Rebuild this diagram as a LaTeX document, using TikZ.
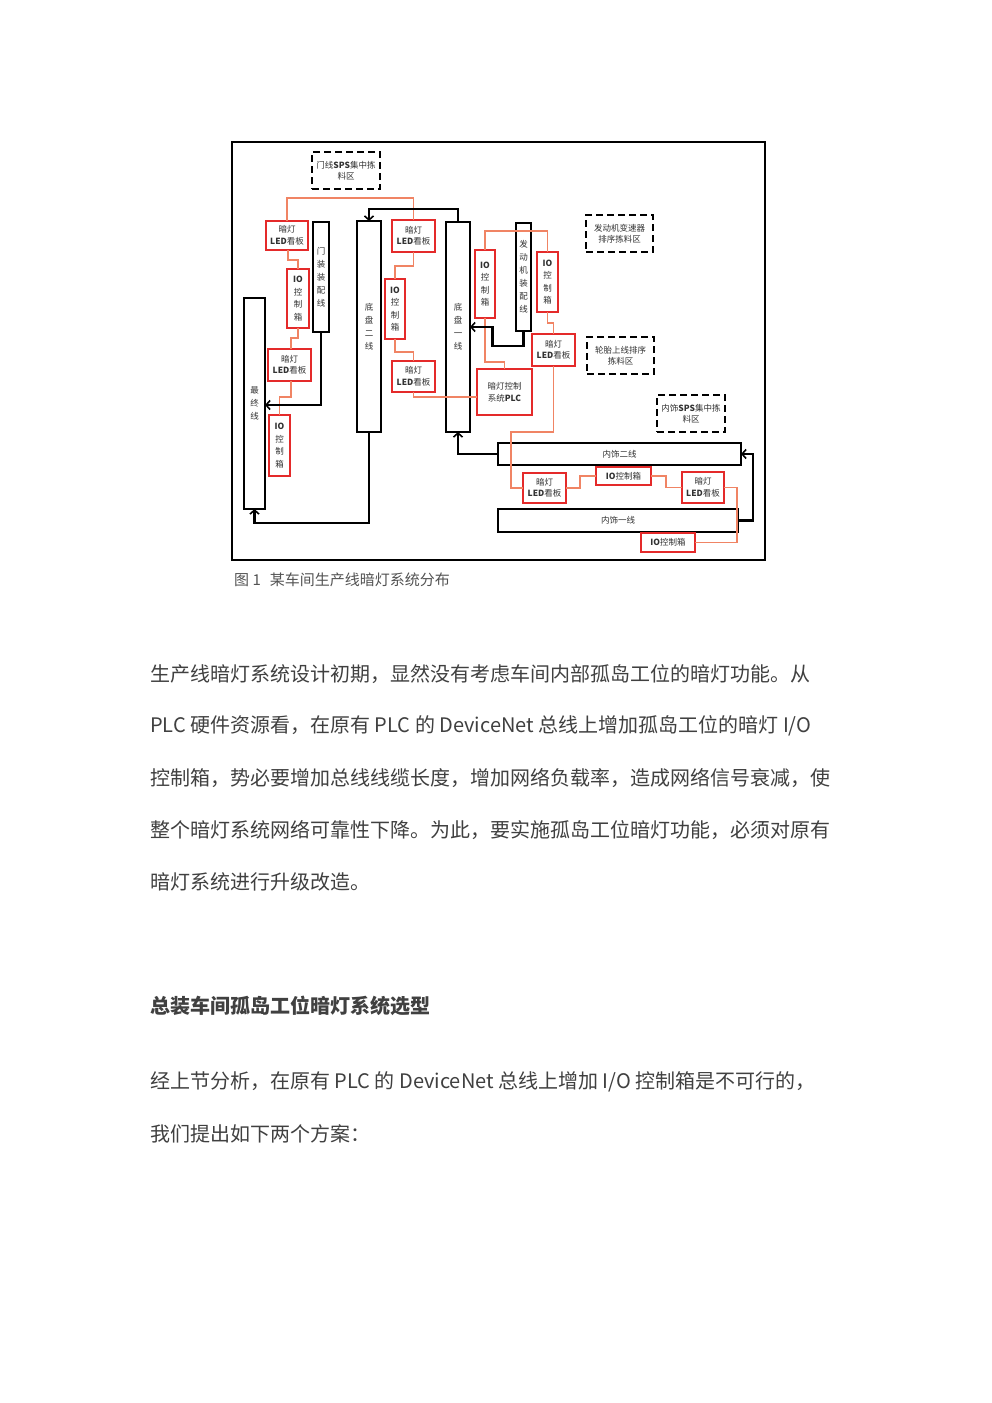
\documentclass[tikz,border=0pt]{standalone}
\usepackage{fontspec}
\setmainfont{Noto Sans CJK SC}
\usetikzlibrary{arrows.meta}
\definecolor{boxred}{RGB}{228,42,42}
\definecolor{wireor}{RGB}{240,132,100}
\definecolor{txt}{RGB}{64,64,64}
\definecolor{figtxt}{RGB}{50,50,50}
\tikzset{
  box/.style={inner sep=0pt, outer sep=0pt, align=center, text=figtxt,
    font=\fontsize{8.5}{11.5}\selectfont},
  bar/.style={box, draw=black, line width=2pt, font=\fontsize{8.5}{13}\selectfont},
  redbox/.style={box, draw=boxred, line width=2.2pt},
  vio/.style={redbox, font=\fontsize{8.5}{12.5}\selectfont},
  dashbox/.style={box, draw=black, line width=2pt, dash pattern=on 7pt off 4pt},
  wire/.style={draw=wireor, line width=1.3pt},
  flow/.style={draw=black, line width=2.2pt, -{Straight Barb[length=4pt,width=9pt,line width=1.6pt]}},
  body/.style={anchor=west, inner sep=0pt, text=txt, font=\fontsize{20}{24}\selectfont},
  captext/.style={anchor=west, inner sep=0pt, text=txt!90, font=\fontsize{15}{17}\selectfont}
}
\begin{document}
\begin{tikzpicture}[x=1pt,y=-1pt]
\useasboundingbox[fill=white] (0,0) rectangle (992,1403);
% frame
\node[draw=black, line width=1.5pt, minimum width=533pt, minimum height=418pt, inner sep=0pt] (frame) at (498.5,351) {};
% dashed areas
\node[dashbox, minimum width=68pt, minimum height=37pt] (d1) at (346,170.5) {门线\textbf{SPS}集中拣\\料区};
\node[dashbox, minimum width=67pt, minimum height=37pt] (d2) at (619.5,233.5) {发动机变速器\\排序拣料区};
\node[dashbox, minimum width=67pt, minimum height=37pt] (d3) at (620.5,355.5) {轮胎上线排序\\拣料区};
\node[dashbox, minimum width=68pt, minimum height=37pt] (d4) at (691,413.5) {内饰\textbf{SPS}集中拣\\料区};
% production lines
\node[bar, minimum width=16pt, minimum height=110pt] (men) at (321,277) {门\\装\\装\\配\\线};
\node[bar, minimum width=21pt, minimum height=211pt] (zz) at (254.5,403.5) {最\\终\\线};
\node[bar, minimum width=24pt, minimum height=211pt] (dp2) at (369,326.5) {底\\盘\\二\\线};
\node[bar, minimum width=24pt, minimum height=210pt] (dp1) at (458,327) {底\\盘\\一\\线};
\node[bar, minimum width=15pt, minimum height=108pt] (fdj) at (523.5,277) {发\\动\\机\\装\\配\\线};
\node[bar, minimum width=243pt, minimum height=22pt] (ns2) at (619.5,454) {内饰二线};
\node[bar, minimum width=240pt, minimum height=23pt] (ns1) at (618,520.5) {内饰一线};
% red boxes
\node[redbox, minimum width=42pt, minimum height=29pt] (led1) at (287,235.5) {暗灯\\\textbf{LED}看板};
\node[vio, minimum width=22pt, minimum height=59pt] (io1) at (298,298.5) {\textbf{IO}\\控\\制\\箱};
\node[redbox, minimum width=43pt, minimum height=32pt] (led2) at (289.5,365) {暗灯\\\textbf{LED}看板};
\node[vio, minimum width=21pt, minimum height=61pt] (io2) at (279.5,445.5) {\textbf{IO}\\控\\制\\箱};
\node[redbox, minimum width=43pt, minimum height=32pt] (led3) at (413.5,236) {暗灯\\\textbf{LED}看板};
\node[vio, minimum width=20pt, minimum height=60pt] (io3) at (395,309) {\textbf{IO}\\控\\制\\箱};
\node[redbox, minimum width=43pt, minimum height=31pt] (led4) at (413.5,376.5) {暗灯\\\textbf{LED}看板};
\node[redbox, minimum width=55pt, minimum height=46pt] (plc) at (504.5,392) {暗灯控制\\系统\textbf{PLC}};
\node[vio, minimum width=20pt, minimum height=68pt] (io4) at (485,284) {\textbf{IO}\\控\\制\\箱};
\node[vio, minimum width=21pt, minimum height=60pt] (io5) at (547.5,282) {\textbf{IO}\\控\\制\\箱};
\node[redbox, minimum width=43pt, minimum height=32pt] (led5) at (553.5,350) {暗灯\\\textbf{LED}看板};
\node[redbox, minimum width=43pt, minimum height=30pt] (led6) at (544.5,488) {暗灯\\\textbf{LED}看板};
\node[redbox, minimum width=55pt, minimum height=18pt] (io6) at (623.5,476) {\textbf{IO}控制箱};
\node[redbox, minimum width=42pt, minimum height=31pt] (led7) at (703,487.5) {暗灯\\\textbf{LED}看板};
\node[redbox, minimum width=54pt, minimum height=19pt] (io7) at (668,542.5) {\textbf{IO}控制箱};
% orange wiring
\draw[wire] (led1.north) -- ++(0,-23) -| (led3.north);
\draw[wire] ([xshift=1pt]led1.south) -- ++(0,10) -| (io1.north);
\draw[wire] (io1.south) -- ++(0,10) -| ([xshift=1.5pt]led2.north);
\draw[wire] ([xshift=1.5pt]led2.south) -- ++(0,16) -| (io2.north);
\draw[wire] (led3.south) -- ++(0,14) -| (io3.north);
\draw[wire] (io3.south) -- ++(0,13) -| (led4.north);
\draw[wire] (led4.south) |- ([yshift=-5pt]plc.west);
\draw[wire] (io4.north) -- ++(0,-19) -| (io5.north);
\draw[wire] (io4.south) -- ++(0,44) -| (plc.north);
\draw[wire] (io5.south) -- ++(0,11) -| (led5.north);
\draw[wire] (led5.south) -- ++(0,66) -- ++(-42.5,0) |- (led6.west);
\draw[wire] (led6.east) -- ++(14,0) |- (io6.west);
\draw[wire] (io6.east) -- ++(15,0) |- (led7.west);
\draw[wire] (led7.east) -- ++(13,0) |- (io7.east);
% material flow
\draw[flow] (men.south) |- ([yshift=-1.5pt]zz.east);
\draw[flow] (dp2.south) -- ++(0,91) -| (zz.south);
\draw[flow] (dp1.north) -- ++(0,-13) -| (dp2.north);
\draw[flow] (fdj.south) -- ++(0,15) -- ++(-31,0) |- (dp1.east);
\draw[flow] (ns2.west) -| (dp1.south);
\draw[flow] (ns1.east) -- ++(15,0) |- (ns2.east);
% caption and text
\node[captext] (caption) at (234,580) {图 1\hspace{0.6em}某车间生产线暗灯系统分布};
\node[body] (p1) at (150,674) {生产线暗灯系统设计初期，显然没有考虑车间内部孤岛工位的暗灯功能。从};
\node[body] (p2) at (150,726) {PLC 硬件资源看，在原有 PLC 的 DeviceNet 总线上增加孤岛工位的暗灯 I/O};
\node[body] (p3) at (150,778) {控制箱，势必要增加总线线缆长度，增加网络负载率，造成网络信号衰减，使};
\node[body] (p4) at (150,830) {整个暗灯系统网络可靠性下降。为此，要实施孤岛工位暗灯功能，必须对原有};
\node[body] (p5) at (150,882) {暗灯系统进行升级改造。};
\node[body, font=\fontsize{20}{24}\selectfont\bfseries] (h1) at (150,1006) {总装车间孤岛工位暗灯系统选型};
\node[body] (p6) at (150,1082) {经上节分析，在原有 PLC 的 DeviceNet 总线上增加 I/O 控制箱是不可行的，};
\node[body] (p7) at (150,1134) {我们提出如下两个方案：};
\end{tikzpicture}
\end{document}
